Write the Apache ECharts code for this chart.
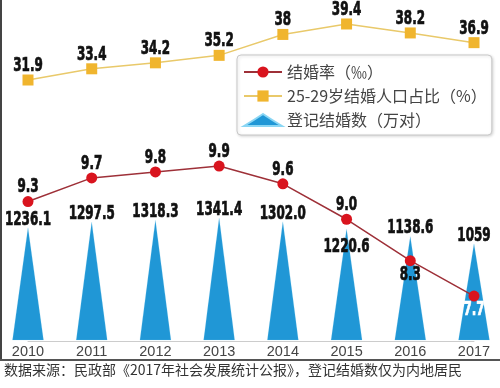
<!DOCTYPE html>
<html><head><meta charset="utf-8">
<script src="https://cdn.jsdelivr.net/npm/echarts@6/dist/echarts.min.js"></script>
<style>html,body{margin:0;padding:0;background:#fff}#c{width:500px;height:388px}</style>
</head><body><div id="c"></div>
<script>
const years = ['2010','2011','2012','2013','2014','2015','2016','2017'];
const marriageCount = [1236.1,1297.5,1318.3,1341.4,1302.0,1220.6,1138.6,1059];
const countLabels = ['1236.1','1297.5','1318.3','1341.4','1302.0','1220.6','1138.6','1059'];
const marriageRate = [9.3,9.7,9.8,9.9,9.6,9.0,8.3,7.7];
const rateLabels = ['9.3','9.7','9.8','9.9','9.6','9.0','8.3','7.7'];
const ratio2529 = [31.9,33.4,34.2,35.2,38,39.4,38.2,36.9];
const ratioLabels = ['31.9','33.4','34.2','35.2','38','39.4','38.2','36.9'];
const seriesNames = ['结婚率（‰）','25-29岁结婚人口占比（%）','登记结婚数（万对）'];
const footer = '数据来源：民政部《2017年社会发展统计公报》，登记结婚数仅为内地居民';

const numFont = "bold 19px 'DejaVu Sans Condensed','DejaVu Sans',sans-serif";

// label layer drawn through the axes' scales (condensed heavy digits)
function labelLayer(values, texts, yAxisIndex, offsetFn, colorFn){
  return {
    type:'custom', yAxisIndex:yAxisIndex, z:6, silent:true, clip:false,
    data:values.map((v,i)=>[i,v]),
    encode:{x:0, y:1},
    renderItem:function(params, api){
      const i = params.dataIndex;
      const p = api.coord([api.value(0), api.value(1)]);
      const c = colorFn ? colorFn(i) : '#111';
      return {type:'text', x:p[0], y:p[1] + offsetFn(i), scaleX:0.7,
        style:{text:texts[i], font:numFont, fill:c, stroke:c, lineWidth:0.7,
               align:'center', verticalAlign:'middle'}};
    }
  };
}

const chart = echarts.init(document.getElementById('c'), null, {renderer:'canvas'});
chart.setOption({
  animation:false,
  backgroundColor:'#fff',
  grid:{left:28, right:26, top:0, bottom:47},
  xAxis:{type:'category', data:years, boundaryGap:false,
    axisLine:{lineStyle:{color:'#ccc', width:1}}, axisTick:{show:false},
    axisLabel:{fontFamily:"'Liberation Sans',Arial,sans-serif", fontSize:14.5, color:'#444', margin:3}},
  yAxis:[
    {type:'value', min:0, max:3750, show:false},
    {type:'value', min:6.94, max:12.71, show:false},
    {type:'value', min:-3.04, max:42.61, show:false}
  ],
  legend:{
    orient:'vertical', left:237, top:55,
    backgroundColor:'#fff', borderColor:'#c8c8c8', borderWidth:1, borderRadius:4,
    padding:[9,5,7,6], itemGap:8, itemWidth:38, itemHeight:14,
    shadowColor:'rgba(0,0,0,0.15)', shadowBlur:3, shadowOffsetX:1, shadowOffsetY:1,
    textStyle:{fontFamily:"'Noto Sans CJK SC',sans-serif", fontSize:16, color:'#444'},
    data:[
      {name:seriesNames[0]},
      {name:seriesNames[1]},
      {name:seriesNames[2], icon:'path://M0,12 Q10,6 19,0 Q28,6 38,12 Z'}
    ]
  },
  series:[
    {name:seriesNames[2], type:'pictorialBar', yAxisIndex:0, symbol:'triangle',
     symbolSize:[31,'100%'], z:2,
     itemStyle:{color:'#2097d6', borderColor:'#8ad6f4', borderWidth:1},
     data:marriageCount
    },
    {name:seriesNames[1], type:'line', yAxisIndex:2, z:3,
     symbol:'rect', symbolSize:11,
     itemStyle:{color:'#f0b52e'}, lineStyle:{color:'#e9c96a', width:1.5},
     data:ratio2529
    },
    {name:seriesNames[0], type:'line', yAxisIndex:1, z:4,
     symbol:'circle', symbolSize:11,
     itemStyle:{color:'#d9141e'}, lineStyle:{color:'#9e3038', width:1.5},
     data:marriageRate
    },
    labelLayer(marriageCount, countLabels, 0, i => i===5 ? 17 : -9),
    labelLayer(ratio2529, ratioLabels, 2, i => -14),
    labelLayer(marriageRate, rateLabels, 1, i => i>=6 ? 14 : -14, i => i===7 ? '#fff' : '#111')
  ],
  graphic:[
    {type:'line', shape:{x1:1, y1:0, x2:1, y2:360}, style:{stroke:'#444', lineWidth:2}, z:10},
    {type:'line', shape:{x1:0, y1:360, x2:500, y2:360}, style:{stroke:'#555', lineWidth:2}, z:10},
    {type:'text', left:4, top:363, style:{text:footer, font:"14px 'Noto Sans CJK SC',sans-serif", fill:'#333'}}
  ]
});
</script></body></html>
